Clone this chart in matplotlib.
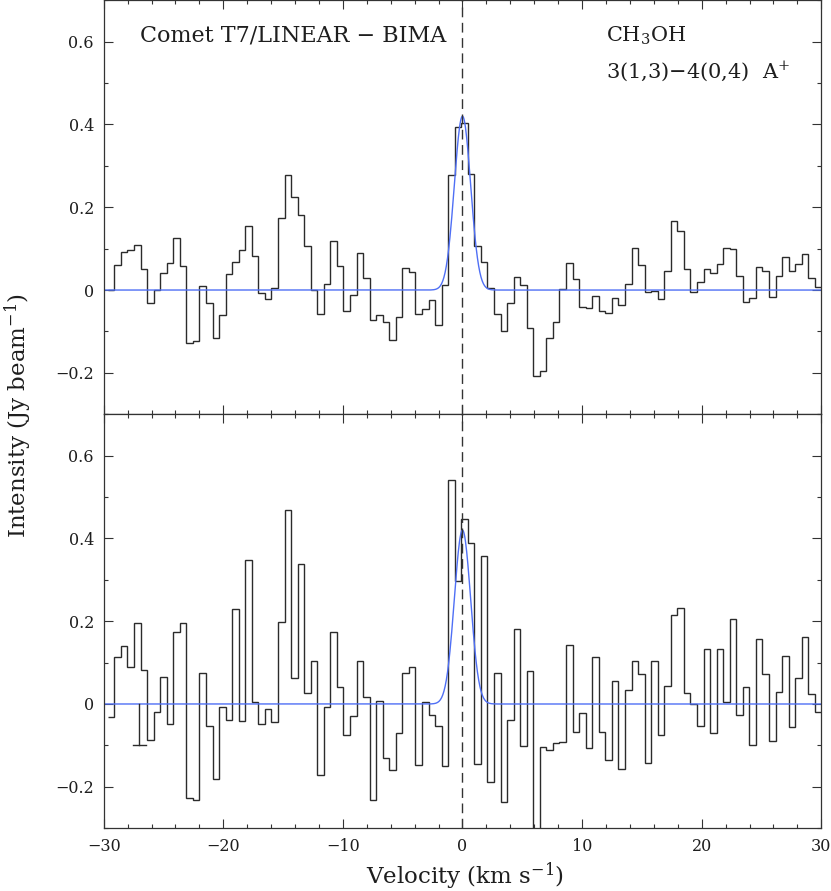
import matplotlib
matplotlib.use("Agg")
import matplotlib.pyplot as plt
import numpy as np
from matplotlib.ticker import MultipleLocator, FuncFormatter

plt.rcParams["font.family"] = ["DejaVu Serif"]
plt.rcParams["mathtext.fontset"] = "dejavuserif"

# channel grid (km/s): first channel edge and channel width
V_START = -29.66
DV = 0.5474

# top spectrum (Jy/beam), one value per channel
top_vals = [
    0.0, 0.061, 0.093, 0.097, 0.110, 0.052, -0.031, 0.0, 0.040, 0.066,
    0.126, 0.057, -0.128, -0.124, 0.010, -0.032, -0.117, -0.060, 0.039, 0.067,
    0.096, 0.155, 0.083, -0.006, -0.021, 0.006, 0.174, 0.279, 0.224, 0.181,
    0.106, 0.0, -0.058, 0.014, 0.119, 0.057,
    -0.051, -0.013, 0.089, 0.028, -0.072, -0.060, -0.078, -0.121, -0.064, 0.054,
    0.043, -0.057, -0.047, -0.023, -0.085, 0.011, 0.279, 0.393, 0.403, 0.280,
    0.107, 0.068, 0.006, -0.057, -0.099, -0.031, 0.031, 0.011, -0.091, -0.208,
    -0.196, -0.117, -0.077, 0.002, 0.066, 0.026, -0.041,
    -0.043, -0.015, -0.051, -0.056, -0.019, -0.036, 0.014, 0.101, 0.060, -0.005,
    -0.002, -0.022, 0.047, 0.166, 0.143, 0.051, -0.005, 0.019, 0.052, 0.041,
    0.062, 0.101, 0.098, 0.035, -0.030, -0.019, 0.056, 0.046, -0.018, 0.035,
    0.081, 0.047, 0.064, 0.086, 0.028, 0.007,
]

# bottom spectrum
bot_vals = [
    -0.031, 0.114, 0.141, 0.090, 0.195, 0.083, -0.088, -0.019, 0.066, -0.048,
    0.173, 0.195, -0.228, -0.232, 0.076, -0.053, -0.181, -0.008, -0.039, 0.229,
    -0.040, 0.349, 0.004, -0.048, -0.013, -0.043, 0.197, 0.469, 0.062, 0.337,
    0.026, 0.105, -0.172, -0.008, 0.173, 0.040,
    -0.076, -0.028, 0.104, 0.018, -0.233, 0.007, -0.130, -0.160, -0.069, 0.074,
    0.089, -0.147, 0.004, -0.026, -0.053, -0.149, 0.540, 0.296, 0.446, 0.388,
    -0.145, 0.357, -0.188, 0.074, -0.236, -0.039, 0.180, -0.102, 0.080, -0.38,
    -0.105, -0.111, -0.095, -0.093, 0.143, -0.067, -0.021,
    -0.107, 0.114, -0.068, -0.136, 0.055, -0.156, 0.035, 0.105, 0.072, -0.142,
    0.105, -0.075, 0.043, 0.214, 0.231, 0.026, -0.001, -0.052, 0.132, -0.070,
    0.132, 0.006, 0.205, -0.027, 0.040, -0.100, 0.156, 0.072, -0.090, 0.028,
    0.115, -0.056, 0.064, 0.163, 0.024, -0.019,
]

# gaussian fit parameters: amplitude, centre, FWHM (km/s)
fit_top = (0.42, 0.0, 1.6)
fit_bot = (0.42, 0.0, 1.6)

# rms bar in lower panel: position, depth, cap half-width
rms_bar = (-27.02, -0.10, 0.52)

HIST_COLOR = "#2b2b2b"
FIT_COLOR = "#4f6ff5"
TEXT_COLOR = "#1e1e1e"


def gauss(v, amp, v0, fwhm):
    sig = fwhm / (2 * np.sqrt(2 * np.log(2)))
    return amp * np.exp(-0.5 * ((v - v0) / sig) ** 2)


def fmt_y(val, pos):
    if abs(val) < 1e-9:
        return "0"
    return ("%.1f" % val).replace("-", "\u2212")


def fmt_x(val, pos):
    return ("%d" % round(val)).replace("-", "\u2212")


def style_axis(ax):
    ax.set_xlim(-30, 30)
    ax.set_ylim(-0.3, 0.7)
    ax.xaxis.set_major_locator(MultipleLocator(10))
    ax.xaxis.set_minor_locator(MultipleLocator(2))
    ax.yaxis.set_major_locator(MultipleLocator(0.2))
    ax.yaxis.set_minor_locator(MultipleLocator(0.1))
    ax.yaxis.set_major_formatter(FuncFormatter(fmt_y))
    ax.xaxis.set_major_formatter(FuncFormatter(fmt_x))
    ax.tick_params(which="both", direction="in", top=True, right=True,
                   color="#333333", labelsize=11.5, width=0.8,
                   labelcolor=TEXT_COLOR)
    ax.tick_params(which="major", length=6.2, pad=7)
    ax.tick_params(which="minor", length=3.0)
    for sp in ax.spines.values():
        sp.set_color("#333333")
        sp.set_linewidth(0.9)


fig = plt.figure(figsize=(8.31, 8.91), dpi=100)
ax_top = fig.add_axes([0.1248, 0.5351, 0.8635, 0.4646])
ax_bot = fig.add_axes([0.1248, 0.0705, 0.8635, 0.4646], sharex=ax_top)

v_fine = np.linspace(-30, 30, 1201)

for ax, vals, fit in [(ax_top, top_vals, fit_top), (ax_bot, bot_vals, fit_bot)]:
    edges = V_START + DV * np.arange(len(vals) + 1)
    ax.stairs(vals, edges, baseline=None, color=HIST_COLOR, lw=1.0)
    ax.plot(v_fine, gauss(v_fine, *fit), color=FIT_COLOR, lw=1.0)
    ax.axvline(0, color="#333333", lw=1.0, ls=(0, (7, 4)))
    style_axis(ax)

# rms bar
vx, depth, hw = rms_bar
ax_bot.plot([vx, vx], [0, depth], color=HIST_COLOR, lw=1.0)
ax_bot.plot([vx - hw, vx + hw], [depth, depth], color=HIST_COLOR, lw=1.0)

plt.setp(ax_top.get_xticklabels(), visible=False)

ax_top.text(-27.0, 0.615, "Comet T7/LINEAR \u2212 BIMA", fontsize=16,
            va="center", ha="left", color=TEXT_COLOR)
ax_top.text(12.0, 0.615, "CH$_3$OH", fontsize=15, va="center", ha="left",
            color=TEXT_COLOR)
ax_top.text(12.0, 0.527, "3(1,3)\u22124(0,4)  A$^{+}$", fontsize=15,
            va="center", ha="left", color=TEXT_COLOR)

fig.text(0.5595, 0.016, "Velocity (km s$^{-1}$)", fontsize=16.5,
         ha="center", va="center", color=TEXT_COLOR)
fig.text(0.022, 0.534, "Intensity (Jy beam$^{-1}$)", fontsize=16.5,
         ha="center", va="center", rotation=90, color=TEXT_COLOR)

fig.savefig("out.png", dpi=100)
